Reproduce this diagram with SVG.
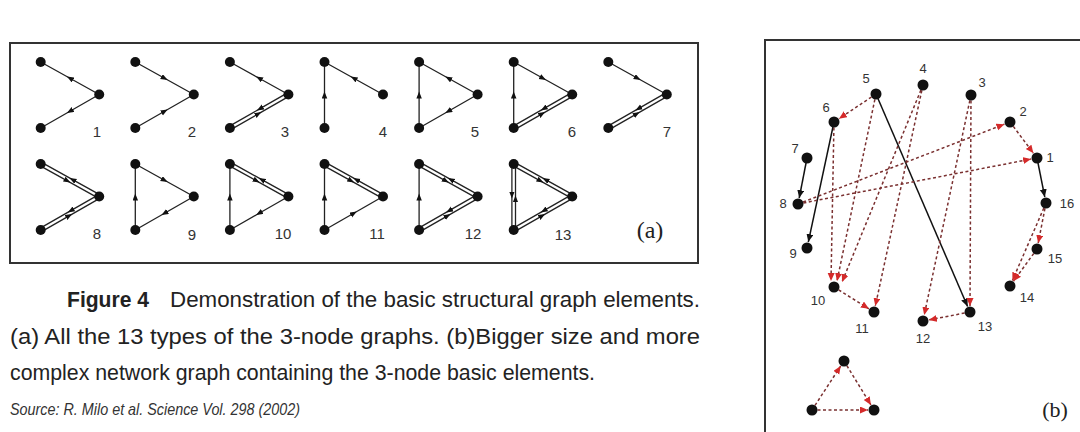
<svg xmlns="http://www.w3.org/2000/svg" xmlns:xlink="http://www.w3.org/1999/xlink" width="1080" height="432" viewBox="0 0 1080 432">
<style>
.frame{fill:none;stroke:#333;stroke-width:2}
.e{fill:none;stroke:#222;stroke-width:1.3;marker-mid:url(#ah)}
.nd{fill:#111}
.ml{font-family:"Liberation Sans",Arial,sans-serif;font-size:15px;fill:#333;text-anchor:middle}
.pl{font-family:"Liberation Serif","Times New Roman",serif;fill:#222;text-anchor:middle}
.cap{font-family:"Liberation Sans Narrow","Arial Narrow","Liberation Sans",Arial,sans-serif;font-size:22px;fill:#222}
.src{font-family:"Liberation Sans Narrow","Arial Narrow","Liberation Sans",Arial,sans-serif;font-size:17px;font-style:italic;fill:#333}
.bl{font-family:"Liberation Sans",Arial,sans-serif;font-size:13px;fill:#333;text-anchor:middle}
.sol{fill:none;stroke:#111;stroke-width:1.5;marker-end:url(#bk)}
.dsh{fill:none;stroke:#7a3030;stroke-width:1.5;stroke-dasharray:3 2.5;marker-end:url(#rd)}
.bn{fill:#111}
</style>
<defs>
<marker id="ah" markerUnits="userSpaceOnUse" markerWidth="8" markerHeight="6" refX="3.5" refY="2.75" orient="auto"><path d="M0,0 L7,2.75 L0,5.5 z" fill="#111"/></marker>
<marker id="bk" markerUnits="userSpaceOnUse" markerWidth="9" markerHeight="8" refX="8" refY="3.5" orient="auto"><path d="M0,0 L8,3.5 L0,7 z" fill="#111"/></marker>
<marker id="rd" markerUnits="userSpaceOnUse" markerWidth="9" markerHeight="8" refX="8" refY="3.5" orient="auto"><path d="M0,0 L8,3.5 L0,7 z" fill="#d42a2a"/></marker>
<g id="TtoR"><polyline class="e" points="0,0 29.25,16.25 58.5,32.5"/></g>
<g id="RtoT"><polyline class="e" points="58.5,32.5 29.25,16.25 0,0"/></g>
<g id="BtoR"><polyline class="e" points="0,66 29.25,49.25 58.5,32.5"/></g>
<g id="RtoB"><polyline class="e" points="58.5,32.5 29.25,49.25 0,66"/></g>
<g id="BtoT"><polyline class="e" points="0,66 0,33 0,0"/></g>
<g id="dTR"><polyline class="e" points="-0.875,1.573 26.62,16.848 57.625,34.073"/><polyline class="e" points="59.375,30.927 31.88,15.652 0.875,-1.573"/></g>
<g id="dBR"><polyline class="e" points="0.895,67.562 28.39,51.817 59.395,34.062"/><polyline class="e" points="57.605,30.938 30.11,46.683 -0.895,64.438"/></g>
<g id="dBT"><polyline class="e" points="1.8,66 1.8,34.98 1.8,0"/><polyline class="e" points="-1.8,0 -1.8,31.02 -1.8,66"/></g>
<g id="nodes"><circle class="nd" cx="0" cy="0" r="5"/><circle class="nd" cx="58.5" cy="32.5" r="5"/><circle class="nd" cx="0" cy="66" r="5"/></g>
</defs>
<rect width="1080" height="432" fill="#fff"/>

<g id="panel-a">
<rect class="frame" x="10" y="43" width="688" height="220"/>
<g id="m1" transform="translate(40.7,62)"><use href="#RtoT"/><use href="#RtoB"/><use href="#nodes"/></g>
<g id="m2" transform="translate(135.3,62)"><use href="#TtoR"/><use href="#BtoR"/><use href="#nodes"/></g>
<g id="m3" transform="translate(229.9,62)"><use href="#RtoT"/><use href="#dBR"/><use href="#nodes"/></g>
<g id="m4" transform="translate(324.5,62)"><use href="#BtoT"/><use href="#RtoT"/><use href="#nodes"/></g>
<g id="m5" transform="translate(419.1,62)"><use href="#BtoT"/><use href="#RtoT"/><use href="#RtoB"/><use href="#nodes"/></g>
<g id="m6" transform="translate(513.7,62)"><use href="#BtoT"/><use href="#TtoR"/><use href="#dBR"/><use href="#nodes"/></g>
<g id="m7" transform="translate(608.3,62)"><use href="#TtoR"/><use href="#dBR"/><use href="#nodes"/></g>
<g id="m8" transform="translate(40.7,164)"><use href="#dTR"/><use href="#dBR"/><use href="#nodes"/></g>
<g id="m9" transform="translate(135.3,164)"><use href="#BtoT"/><use href="#TtoR"/><use href="#RtoB"/><use href="#nodes"/></g>
<g id="m10" transform="translate(229.9,164)"><use href="#BtoT"/><use href="#dTR"/><use href="#RtoB"/><use href="#nodes"/></g>
<g id="m11" transform="translate(324.5,164)"><use href="#BtoT"/><use href="#dTR"/><use href="#BtoR"/><use href="#nodes"/></g>
<g id="m12" transform="translate(419.1,164)"><use href="#BtoT"/><use href="#dTR"/><use href="#dBR"/><use href="#nodes"/></g>
<g id="m13" transform="translate(513.7,164)"><use href="#dBT"/><use href="#dTR"/><use href="#dBR"/><use href="#nodes"/></g>
<g id="motif-labels">
<text class="ml" x="97" y="137">1</text>
<text class="ml" x="192" y="137">2</text>
<text class="ml" x="285" y="137">3</text>
<text class="ml" x="383" y="137">4</text>
<text class="ml" x="475" y="137">5</text>
<text class="ml" x="572" y="137">6</text>
<text class="ml" x="667" y="137">7</text>
<text class="ml" x="97" y="239">8</text>
<text class="ml" x="192" y="240">9</text>
<text class="ml" x="283" y="239">10</text>
<text class="ml" x="377" y="239">11</text>
<text class="ml" x="473" y="239">12</text>
<text class="ml" x="563" y="240">13</text>
</g>
<text class="pl" x="650" y="238" font-size="24">(a)</text>
</g>

<g id="caption">
<text class="cap" x="67" y="307" font-weight="bold" textLength="82" lengthAdjust="spacingAndGlyphs">Figure 4</text>
<text class="cap" x="170" y="307" textLength="530" lengthAdjust="spacingAndGlyphs">Demonstration of the basic structural graph elements.</text>
<text class="cap" x="10" y="344" textLength="690" lengthAdjust="spacingAndGlyphs">(a) All the 13 types of the 3-node graphs. (b)Bigger size and more</text>
<text class="cap" x="10" y="380" textLength="585" lengthAdjust="spacingAndGlyphs">complex network graph containing the 3-node basic elements.</text>
<text class="src" x="10" y="415" textLength="290" lengthAdjust="spacingAndGlyphs">Source: R. Milo et al. Science Vol. 298 (2002)</text>
</g>

<g id="panel-b">
<path class="frame" d="M1082,40 H765 V434"/>
<g id="connectors">
<line class="sol" x1="807" y1="158" x2="799.2" y2="198.1"/>
<line class="sol" x1="834" y1="122" x2="808.3" y2="242.1"/>
<line class="sol" x1="1037" y1="158" x2="1044.8" y2="197.1"/>
<line class="sol" x1="876" y1="94" x2="967.6" y2="306.5"/>
<line class="dsh" x1="876" y1="94" x2="839" y2="118.7"/>
<line class="dsh" x1="798" y1="204" x2="1004.4" y2="124.2"/>
<line class="dsh" x1="798" y1="204" x2="1031.1" y2="159.1"/>
<line class="dsh" x1="1010" y1="122" x2="1033.4" y2="153.2"/>
<line class="dsh" x1="1046" y1="203" x2="1038.2" y2="243.1"/>
<line class="dsh" x1="1046" y1="203" x2="1012.4" y2="280.5"/>
<line class="dsh" x1="1037" y1="249" x2="1013.5" y2="281.2"/>
<line class="dsh" x1="834" y1="122" x2="831" y2="281"/>
<line class="dsh" x1="876" y1="94" x2="837" y2="281"/>
<line class="dsh" x1="923" y1="85" x2="842" y2="282"/>
<line class="dsh" x1="923" y1="85" x2="875.3" y2="306.1"/>
<line class="dsh" x1="834" y1="287" x2="868.9" y2="308.8"/>
<line class="dsh" x1="971" y1="95" x2="924.2" y2="315.1"/>
<line class="dsh" x1="971" y1="95" x2="970" y2="306"/>
<line class="dsh" x1="970" y1="312" x2="928.9" y2="319.9"/>
<line class="dsh" x1="812" y1="410" x2="840.7" y2="366"/>
<line class="dsh" x1="844" y1="361" x2="870.9" y2="404.9"/>
<line class="dsh" x1="812" y1="410" x2="868" y2="410"/>
</g>
<g id="n1"><circle class="bn" cx="1037" cy="158" r="5.5"/><text class="bl" x="1050" y="162">1</text></g>
<g id="n2"><circle class="bn" cx="1010" cy="122" r="5.5"/><text class="bl" x="1023" y="116">2</text></g>
<g id="n3"><circle class="bn" cx="971" cy="95" r="5.5"/><text class="bl" x="982" y="87">3</text></g>
<g id="n4"><circle class="bn" cx="923" cy="85" r="5.5"/><text class="bl" x="923" y="73">4</text></g>
<g id="n5"><circle class="bn" cx="876" cy="94" r="5.5"/><text class="bl" x="866" y="83">5</text></g>
<g id="n6"><circle class="bn" cx="834" cy="122" r="5.5"/><text class="bl" x="826" y="112">6</text></g>
<g id="n7"><circle class="bn" cx="807" cy="158" r="5.5"/><text class="bl" x="795" y="153">7</text></g>
<g id="n8"><circle class="bn" cx="798" cy="204" r="5.5"/><text class="bl" x="783" y="208">8</text></g>
<g id="n9"><circle class="bn" cx="807" cy="248" r="5.5"/><text class="bl" x="793" y="258">9</text></g>
<g id="n10"><circle class="bn" cx="834" cy="287" r="5.5"/><text class="bl" x="818" y="305">10</text></g>
<g id="n11"><circle class="bn" cx="874" cy="312" r="5.5"/><text class="bl" x="862" y="333">11</text></g>
<g id="n12"><circle class="bn" cx="923" cy="321" r="5.5"/><text class="bl" x="923" y="343">12</text></g>
<g id="n13"><circle class="bn" cx="970" cy="312" r="5.5"/><text class="bl" x="985" y="331">13</text></g>
<g id="n14"><circle class="bn" cx="1010" cy="286" r="5.5"/><text class="bl" x="1027" y="302">14</text></g>
<g id="n15"><circle class="bn" cx="1037" cy="249" r="5.5"/><text class="bl" x="1055" y="263">15</text></g>
<g id="n16"><circle class="bn" cx="1046" cy="203" r="5.5"/><text class="bl" x="1067" y="208">16</text></g>
<g id="t1"><circle class="bn" cx="844" cy="361" r="5.5"/></g>
<g id="t2"><circle class="bn" cx="812" cy="410" r="5.5"/></g>
<g id="t3"><circle class="bn" cx="874" cy="410" r="5.5"/></g>
<text class="pl" x="1055" y="417" font-size="22">(b)</text>
</g>
</svg>
